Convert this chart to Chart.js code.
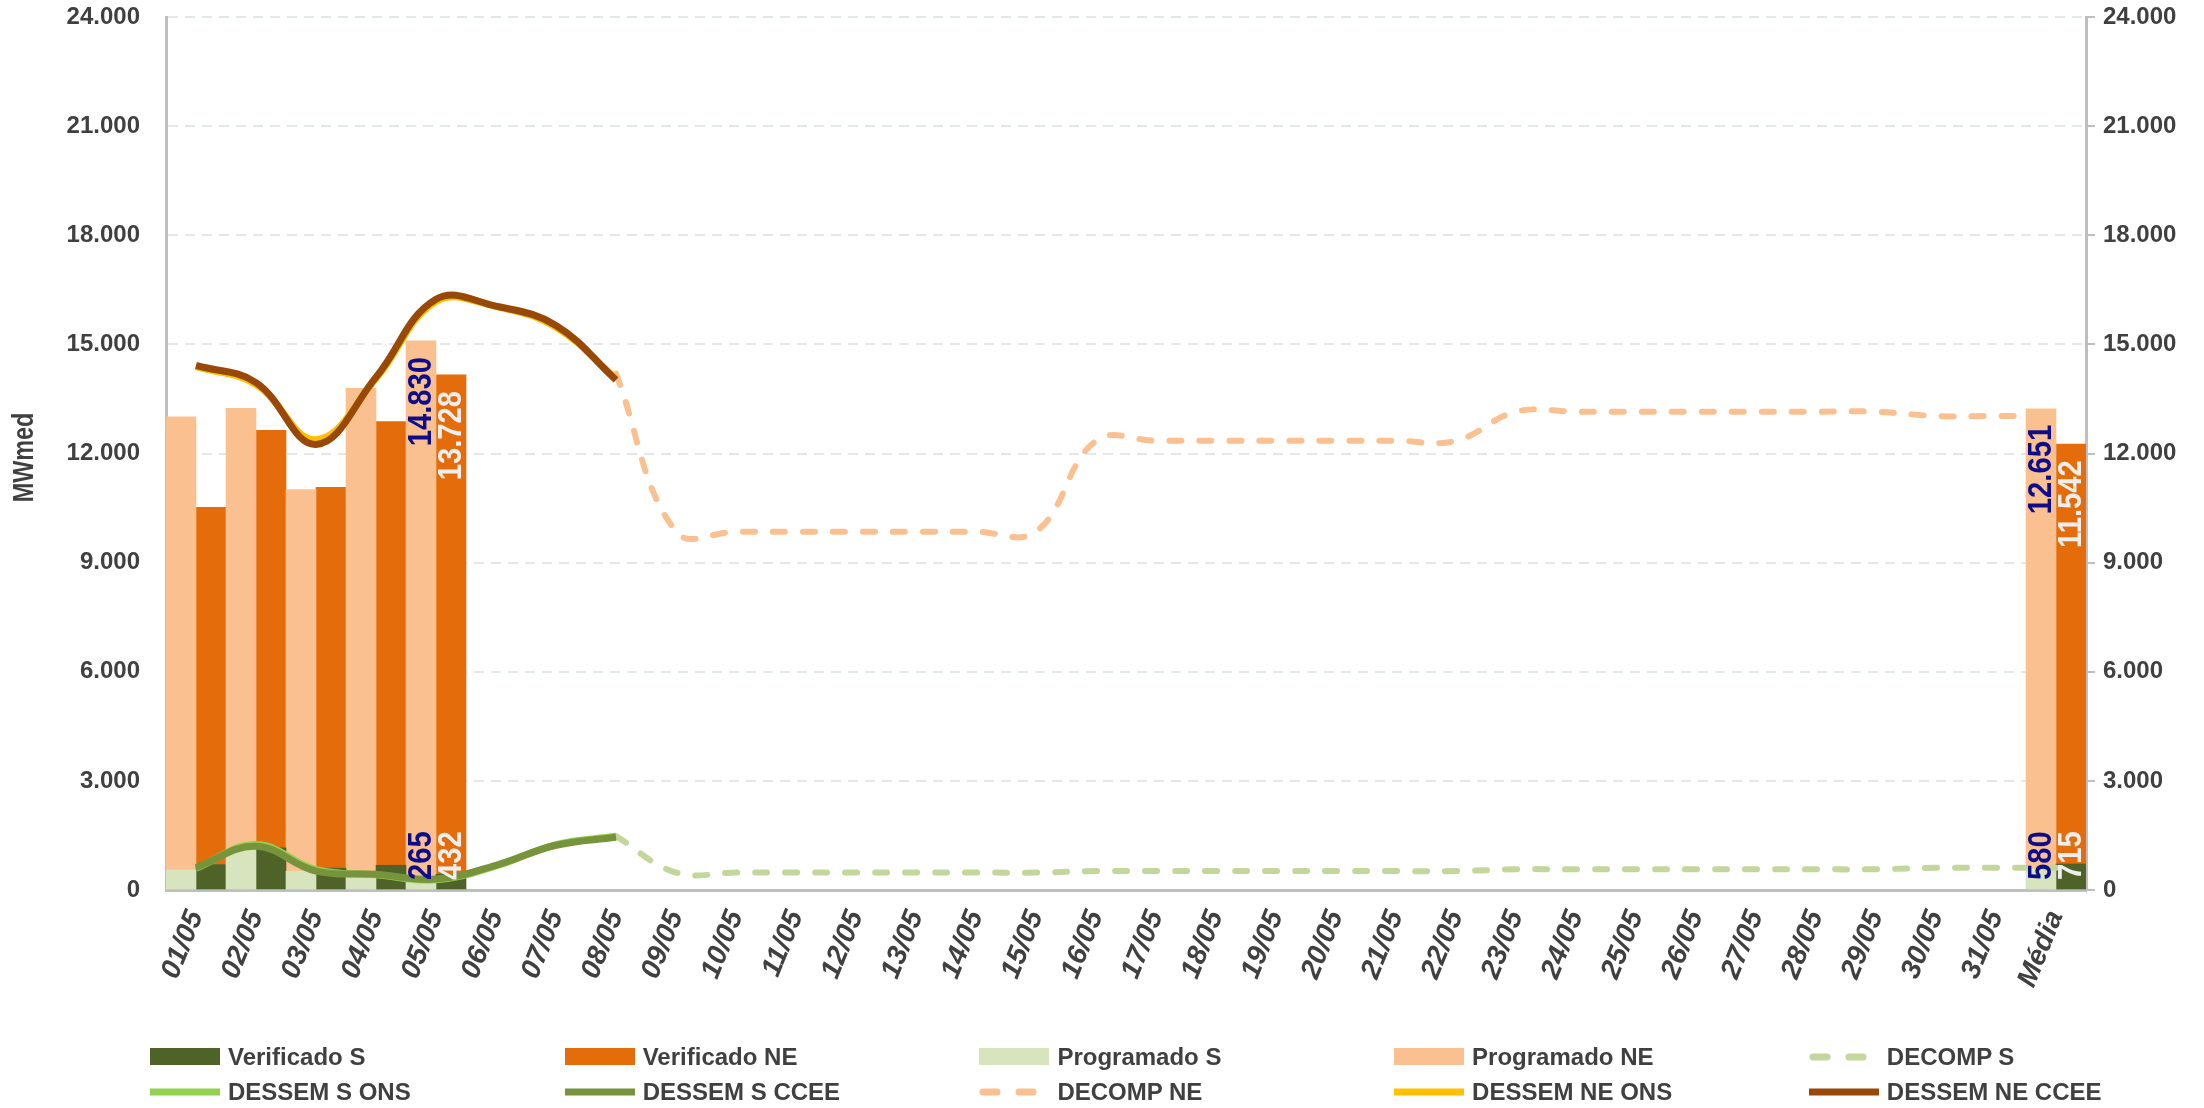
<!DOCTYPE html>
<html>
<head>
<meta charset="utf-8">
<script src="https://cdn.jsdelivr.net/npm/chart.js@4.4.1/dist/chart.umd.min.js"></script>
<style>
  body { margin: 0; background: #fff; }
  #wrap { position: relative; width: 2204px; height: 1108px; }
  #legend { position: absolute; left: 0; top: 1040px; width: 2204px; height: 68px; }
  .item { position: absolute; display: flex; align-items: center; height: 30px;
          font: bold 24px 'Liberation Sans', Arial, sans-serif; color: #404040; white-space: nowrap; }
  .item svg { margin-right: 8px; }
</style>
</head>
<body>
<div id="wrap">
  <canvas id="chart" width="2204" height="1108"></canvas>
  <div id="legend"></div>
</div>
<script>
// Categorias (dias do mês + média)
const days = ['01/05','02/05','03/05','04/05','05/05','06/05','07/05','08/05','09/05','10/05',
  '11/05','12/05','13/05','14/05','15/05','16/05','17/05','18/05','19/05','20/05','21/05',
  '22/05','23/05','24/05','25/05','26/05','27/05','28/05','29/05','30/05','31/05','Média'];

const _ = null;
// Barras (MWmed)
const verificadoS  = [700, 1160, 600, 680, 432, _,_,_,_,_,_,_,_,_,_,_,_,_,_,_,_,_,_,_,_,_,_,_,_,_,_, 715];
const verificadoNE = [9820, 11480, 10470, 12200, 13728, _,_,_,_,_,_,_,_,_,_,_,_,_,_,_,_,_,_,_,_,_,_,_,_,_,_, 11542];
const programadoS  = [550, 1100, 520, 470, 265, _,_,_,_,_,_,_,_,_,_,_,_,_,_,_,_,_,_,_,_,_,_,_,_,_,_, 580];
const programadoNE = [12460, 12140, 10490, 13320, 14830, _,_,_,_,_,_,_,_,_,_,_,_,_,_,_,_,_,_,_,_,_,_,_,_,_,_, 12651];

// Linhas (MWmed)
const decompS   = [_,_,_,_,_,_,_, 1480, 480,480,480,480,480,480,480, 520,520,520,520,520,520,520,
                   570,570,570,570,570,570,570, 610,610, 610];
const decompNE  = [_,_,_,_,_,_,_, 14200, 9850,9850,9850,9850,9850,9850,9850, 12350,12350,12350,12350,12350,12350,12350,
                   13150,13150,13150,13150,13150,13150,13150, 13030,13030, 13030];
const dessemSONS   = [600, 1250, 560, 420, 280, 660, 1250, 1480];
const dessemSCCEE  = [620, 1200, 520, 430, 300, 680, 1230, 1450];
const dessemNEONS  = [14390, 13900, 12380, 14060, 16180, 16040, 15470, 14060];
const dessemNECCEE = [14420, 13950, 12250, 14100, 16240, 16050, 15520, 14020];

const yTicks = [0, 3000, 6000, 9000, 12000, 15000, 18000, 21000, 24000];
const labelDays = [4, 31]; // 05/05 e Média

const legendOrder = ['Verificado S','Verificado NE','Programado S','Programado NE','DECOMP S',
  'DESSEM S ONS','DESSEM S CCEE','DECOMP NE','DESSEM NE ONS','DESSEM NE CCEE'];

const fmt = v => String(Math.round(v)).replace(/\B(?=(\d{3})+(?!\d))/g, '.');
const tickFont = { family: "'Liberation Sans', Arial, sans-serif", size: 24, weight: 'bold' };

function bar(label, data, color, stack, labelColor, labelAt) {
  return { type: 'bar', label, data, backgroundColor: color, stack, order: 2,
    yAxisID: 'y', categoryPercentage: 1, barPercentage: 1, borderWidth: 0, labelColor, labelAt };
}
// linhas no eixo secundário (não empilhado)
function line(label, data, color, dashed, order) {
  return { type: 'line', label, data, borderColor: color, backgroundColor: color, yAxisID: 'y1',
    borderWidth: dashed ? 6 : 7, borderDash: dashed ? [12, 18] : [], borderCapStyle: dashed ? 'round' : 'butt',
    tension: 0.4, pointRadius: 0, spanGaps: false, order, dashed };
}

const datasets = [
  bar('Programado S', programadoS, '#d7e4bd', 'P', '#0d0d8c', 'base'),
  bar('Verificado S', verificadoS, '#4f6228', 'V', '#eeeeee', 'base'),
  bar('Programado NE', programadoNE, '#fac090', 'P', '#0d0d8c', 'end'),
  bar('Verificado NE', verificadoNE, '#e46c0a', 'V', '#eeeeee', 'end'),
  line('DECOMP S', decompS, '#c3d69b', true, 1.5),
  line('DECOMP NE', decompNE, '#fac090', true, 1.4),
  line('DESSEM S ONS', dessemSONS, '#92d050', false, 1.2),
  line('DESSEM S CCEE', dessemSCCEE, '#77933c', false, 1.1),
  line('DESSEM NE ONS', dessemNEONS, '#ffc000', false, 1.0),
  line('DESSEM NE CCEE', dessemNECCEE, '#984807', false, 0.9)
];

// rótulos verticais nas barras
const valueLabels = {
  id: 'valueLabels',
  afterDatasetsDraw(chart) {
    const ctx = chart.ctx;
    chart.data.datasets.forEach((ds, di) => {
      if (!ds.labelColor) return;
      const meta = chart.getDatasetMeta(di);
      labelDays.forEach(i => {
        const el = meta.data[i];
        if (!el || ds.data[i] == null) return;
        ctx.save();
        if (ds.labelAt === 'base') ctx.translate(el.x, el.base - 9);
        else ctx.translate(el.x, el.y + 16);
        ctx.rotate(-Math.PI / 2);
        ctx.scale(0.86, 1);
        ctx.font = "bold 34px 'Liberation Sans', Arial, sans-serif";
        ctx.fillStyle = ds.labelColor;
        ctx.textBaseline = 'middle';
        ctx.textAlign = ds.labelAt === 'base' ? 'left' : 'right';
        ctx.fillText(fmt(ds.data[i]), 0, 1);
        ctx.restore();
      });
    });
  }
};

// título do eixo Y
const yTitle = {
  id: 'yTitle',
  afterDraw(chart) {
    const ctx = chart.ctx, a = chart.chartArea;
    ctx.save();
    ctx.translate(25, (a.top + a.bottom) / 2 + 4);
    ctx.rotate(-Math.PI / 2);
    ctx.scale(0.78, 1);
    ctx.font = "bold 30px 'Liberation Sans', Arial, sans-serif";
    ctx.fillStyle = '#404040';
    ctx.textAlign = 'center';
    ctx.textBaseline = 'middle';
    ctx.fillText('MWmed', 0, 0);
    ctx.restore();
  }
};

const chart = new Chart(document.getElementById('chart'), {
  data: { labels: days, datasets },
  options: {
    responsive: false,
    devicePixelRatio: 1,
    animation: false,
    layout: { padding: { top: 17, left: 0, right: 0, bottom: 0 } },
    plugins: { legend: { display: false }, tooltip: { enabled: false } },
    scales: {
      x: {
        stacked: true,
        offset: true,
        grid: { display: false, drawTicks: false },
        border: { color: '#bfbfbf', width: 3 },
        ticks: {
          autoSkip: false, minRotation: 68, maxRotation: 68, padding: 16, color: '#404040',
          font: { family: "'Liberation Sans', Arial, sans-serif", size: 28, weight: 'bold', style: 'italic' }
        },
        afterFit: s => { s.height = 218; s.paddingLeft = 0; s.paddingRight = 0; }
      },
      y: {
        position: 'left', stacked: true, min: 0, max: 24000,
        afterBuildTicks: s => { s.ticks = yTicks.map(v => ({ value: v })); },
        grid: { color: '#e2e9eb', lineWidth: 2, drawTicks: false },
        border: { color: '#bfbfbf', width: 3, dash: [10, 7] },
        ticks: { padding: 26, color: '#404040', font: tickFont, callback: v => fmt(v) },
        afterFit: s => { s.width = 166; s.paddingTop = 0; s.paddingBottom = 0; }
      },
      y1: {
        position: 'right', stacked: false, min: 0, max: 24000,
        afterBuildTicks: s => { s.ticks = yTicks.map(v => ({ value: v })); },
        grid: { drawOnChartArea: false, drawTicks: true, tickLength: 9, color: '#bfbfbf', lineWidth: 2 },
        border: { color: '#bfbfbf', width: 3 },
        ticks: { padding: 8, color: '#404040', font: tickFont, callback: v => fmt(v) },
        afterFit: s => { s.width = 118; s.paddingTop = 0; s.paddingBottom = 0; }
      }
    }
  },
  plugins: [valueLabels, yTitle]
});

// legenda em HTML, 5 colunas x 2 linhas
const legend = document.getElementById('legend');
legendOrder.forEach((name, k) => {
  const ds = chart.data.datasets.find(d => d.label === name);
  const col = k % 5, row = Math.floor(k / 5);
  const el = document.createElement('div');
  el.className = 'item';
  el.style.left = (150 + col * 414.7) + 'px';
  el.style.top = (row === 0 ? 2 : 37) + 'px';
  let sw;
  if (ds.type === 'bar') {
    sw = `<svg width="70" height="18"><rect x="0" y="0" width="70" height="17" fill="${ds.backgroundColor}"/></svg>`;
  } else if (ds.dashed) {
    sw = `<svg width="70" height="18"><line x1="4" y1="9" x2="66" y2="9" stroke="${ds.borderColor}" stroke-width="7" stroke-linecap="round" stroke-dasharray="14 22"/></svg>`;
  } else {
    sw = `<svg width="70" height="18"><line x1="0" y1="9" x2="70" y2="9" stroke="${ds.borderColor}" stroke-width="7"/></svg>`;
  }
  el.innerHTML = sw + '<span>' + name + '</span>';
  legend.appendChild(el);
});
</script>
</body>
</html>
